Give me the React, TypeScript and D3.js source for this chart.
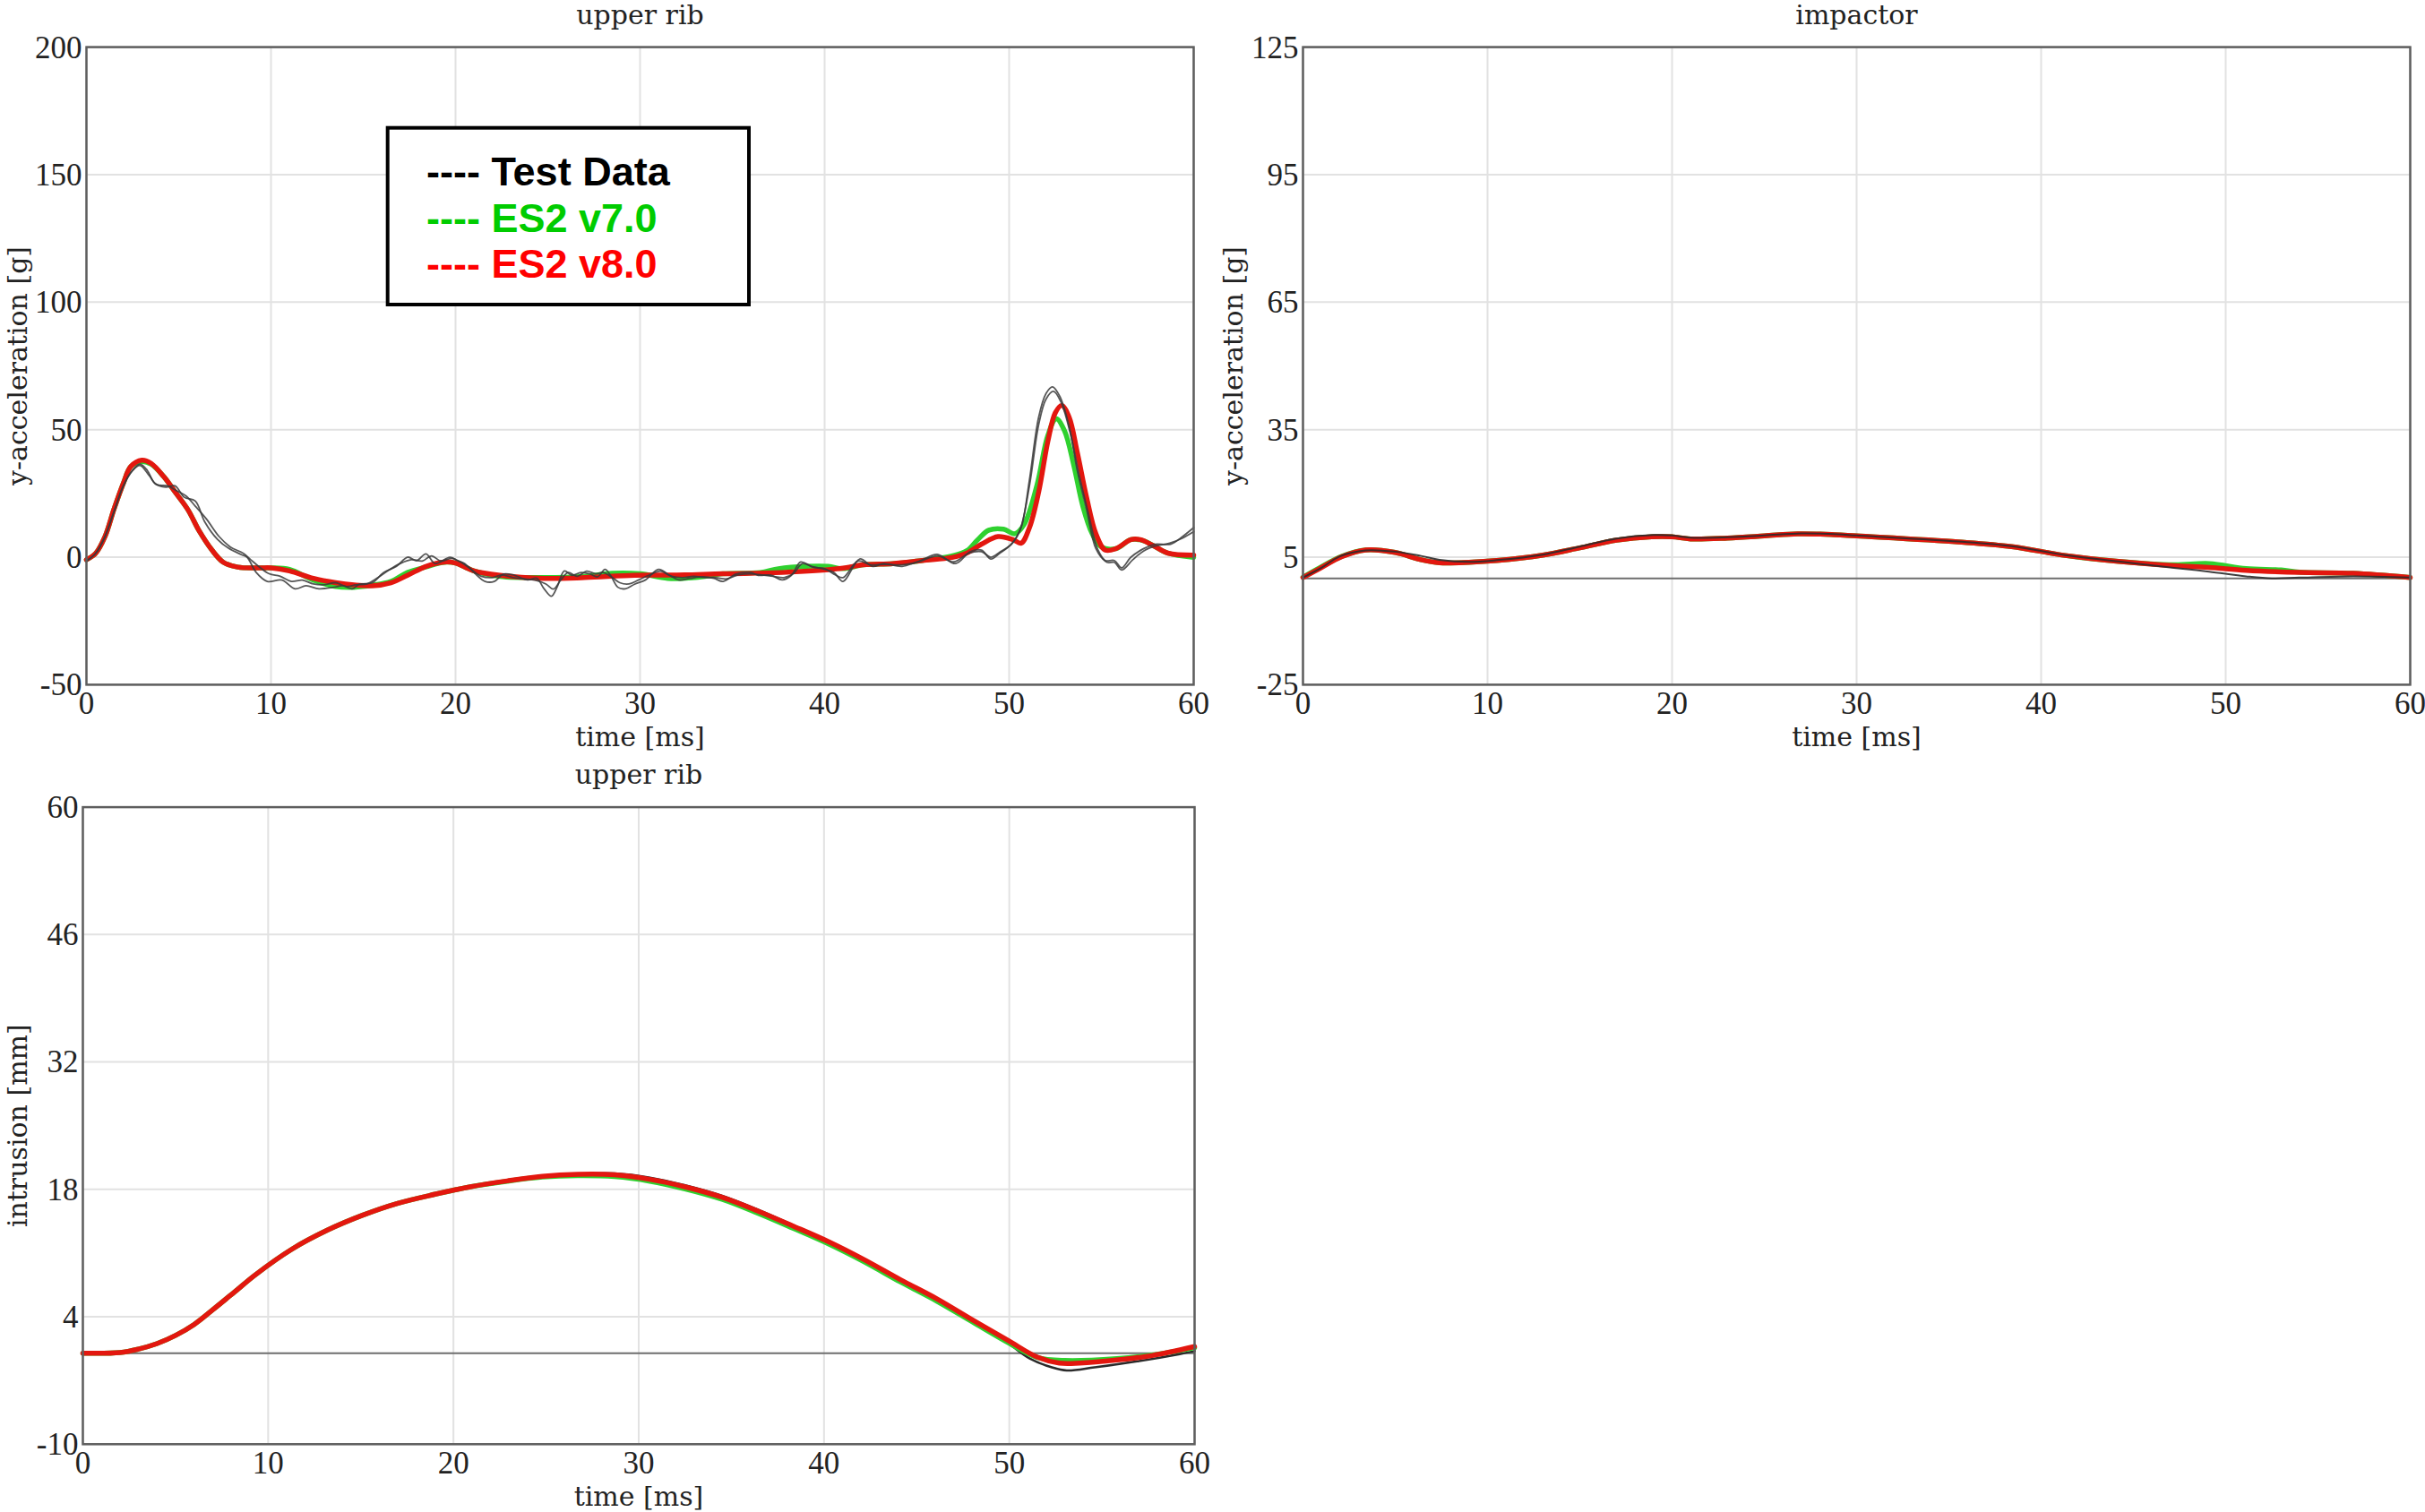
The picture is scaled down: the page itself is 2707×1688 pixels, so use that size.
import React from "react";
import * as d3 from "d3";

// ---------- tick labels ----------
const TIME_TICKS = [0, 10, 20, 30, 40, 50, 60];
const RIB_ACC_TICKS = [-50, 0, 50, 100, 150, 200];
const IMPACTOR_TICKS = [-25, 5, 35, 65, 95, 125];
const INTRUSION_TICKS = [-10, 4, 18, 32, 46, 60];

// ---------- legend ----------
const LEGEND_LABELS = ["---- Test Data", "---- ES2 v7.0", "---- ES2 v8.0"];

// ---------- upper rib y-acceleration [g] ----------
const ribAccTestA: [number, number][] = [
  [0, -1.5], [0.5, 1.5], [1, 8], [1.5, 18], [2, 28], [2.5, 34], [2.9, 36.5], [3.3, 34], [3.7, 29], [4.3, 27.5],
  [4.8, 28], [5.3, 23.5], [5.9, 22], [6.4, 14], [7.1, 7], [7.7, 3.5], [8.4, 1], [8.7, 0], [9.2, -6], [9.8, -9.5],
  [10.6, -9], [11.3, -12.4], [11.9, -11.2], [12.6, -12.4], [13.4, -11.8], [13.9, -11.2], [14.4, -12.4], [14.8, -10.6],
  [15.5, -10], [16.1, -6], [16.8, -3.6], [17.4, 0], [17.9, -1.3], [18.4, 1.3], [18.9, -2.5], [19.7, 0], [20.1, -1.3],
  [20.5, -2.5], [21, -6], [21.6, -9.5], [22.1, -9.5], [22.6, -6.6], [23.2, -7.1], [23.9, -8.9], [24.4, -8.3],
  [24.8, -12.4], [25.2, -15.3], [25.5, -11.8], [25.9, -5.4], [26.3, -7.1], [26.8, -6], [27.3, -6.6], [27.7, -7.7],
  [28.1, -4.8], [28.4, -7.1], [28.8, -11.8], [29.2, -12.4], [29.7, -10.6], [30.3, -8.9], [31, -4.8], [31.6, -7.1],
  [32.1, -8.9], [32.7, -8.3], [33.4, -7.7], [34, -8.3], [34.5, -9.5], [35.2, -6.6], [36, -6], [36.4, -7.1],
  [37.1, -7.1], [37.7, -8.9], [38.2, -7.1], [38.7, -1.9], [39.3, -3.6], [40, -4.8], [40.5, -6], [41, -9.5],
  [41.9, -0.7], [42.6, -3.6], [43.2, -2.5], [44.2, -3.6], [45.2, -1.3], [46.1, 1.1], [47.1, -2.5], [47.9, 2.2],
  [48.5, 2.8], [49, -0.7], [49.5, 1.6], [50.2, 5.7], [50.65, 11.6], [51.1, 30.3], [51.6, 54.9], [52, 64.2],
  [52.35, 66.8], [52.75, 63], [53.25, 51.3], [53.7, 33.8], [54.2, 18.6], [54.7, 3.4], [55.2, -1.3], [55.7, -1.3],
  [56.1, -4.2], [56.6, 0], [57.3, 3.4], [57.9, 5.1], [58.75, 5.1], [59.4, 8.1], [60, 11.6],
];
const ribAccTestB: [number, number][] = [
  [0, -1.5], [0.5, 1.5], [1, 8], [1.5, 18], [2, 28], [2.5, 34], [2.9, 36], [3.4, 32], [3.8, 28.5], [4.4, 28],
  [4.9, 26], [5.4, 24], [5.9, 20], [6.5, 15], [7.2, 8], [7.8, 4], [8.5, 1.5], [8.9, -1], [9.4, -4], [9.9, -6.5],
  [10.5, -7.5], [11.1, -9.5], [11.7, -9], [12.3, -10.5], [12.9, -10.8], [13.5, -10], [14.1, -11.5], [14.6, -10.8],
  [15.2, -10.5], [15.8, -8], [16.4, -5], [17, -2.5], [17.6, -1], [18.2, -1.5], [18.7, 0.5], [19.2, -1.5],
  [19.8, -0.5], [20.3, -2], [20.8, -4.5], [21.4, -7.5], [22, -8], [22.5, -7], [23.1, -8], [23.7, -8.5], [24.3, -9],
  [24.9, -10.5], [25.3, -12.5], [25.7, -9], [26.1, -6], [26.6, -7.5], [27.1, -5.5], [27.6, -6.5], [28, -6],
  [28.5, -8], [28.9, -10], [29.4, -10.5], [29.9, -9], [30.5, -7], [31.1, -5.5], [31.7, -7.5], [32.3, -8],
  [32.9, -7.5], [33.5, -8], [34.1, -8], [34.7, -8.5], [35.3, -7], [36, -6.5], [36.6, -7], [37.2, -7.5], [37.8, -8],
  [38.3, -6.5], [38.8, -2.5], [39.4, -4], [40, -4.5], [40.6, -7], [41, -8], [41.8, -1.5], [42.5, -3], [43.2, -2.8],
  [44.2, -3], [45.1, -1.8], [46.1, 0.5], [47, -1.8], [47.8, 1.5], [48.5, 2.2], [49, 0], [49.5, 2], [50.1, 5],
  [50.6, 11], [51.1, 28], [51.6, 52], [52, 62], [52.4, 65], [52.8, 61], [53.3, 49], [53.8, 32], [54.3, 17],
  [54.8, 3], [55.3, -2], [55.7, -2], [56.1, -5], [56.7, -1], [57.3, 2.5], [58, 4.5], [58.7, 5.5], [59.4, 7.5], [60, 10],
];
const ribAccV7: [number, number][] = [
  [0, -1], [0.5, 1.5], [1, 8], [1.5, 19], [2, 29], [2.4, 35.5], [3, 37.5], [3.5, 36.5], [4.2, 31.5], [4.8, 25.6],
  [5.5, 18.6], [6.1, 10.4], [6.8, 2.8], [7.4, -1.9], [8.2, -3.9], [9.4, -4.2], [10, -4.2], [11, -4.8], [12.3, -9],
  [13.5, -11.5], [14.5, -11.8], [15.5, -11], [16.5, -9.5], [17.4, -6], [18.4, -3.8], [19.4, -2], [20, -2.3],
  [20.5, -3.8], [21, -5.4], [22.4, -7.5], [24.8, -8], [27, -7.5], [28.5, -6.3], [30, -6.5], [31.5, -8.3], [33, -8],
  [34.5, -6.5], [36.5, -6], [37.5, -4.5], [39, -3.6], [40.2, -3.6], [41, -4.5], [42.1, -3], [43.7, -2.5],
  [45.3, -1.3], [46.9, 0.5], [47.7, 2.5], [48.3, 6.9], [48.9, 10.6], [49.7, 11], [50.3, 9.2], [50.8, 12.7],
  [51.5, 28], [52.1, 47.8], [52.55, 54.3], [53, 49.6], [53.5, 36.1], [54, 19.8], [54.5, 9.2], [55, 4], [55.8, 3.4],
  [56.6, 6.9], [57.3, 6.4], [57.8, 4.6], [58.6, 1.6], [60, -0.1],
];
const ribAccV8: [number, number][] = [
  [0, -1], [0.5, 1.5], [1, 8], [1.5, 19], [2, 29], [2.4, 35.5], [3, 38], [3.5, 36.8], [4.2, 31.5], [4.8, 25.6],
  [5.5, 18.6], [6.1, 10.4], [6.8, 2.8], [7.4, -1.9], [8.2, -3.9], [9.4, -4.2], [10, -4.2], [11, -5.4], [12.3, -8.3],
  [13.5, -10], [14.5, -10.9], [15.5, -11.2], [16.5, -10], [17.4, -7.1], [18.4, -3.6], [19.4, -1.9], [20, -2.3],
  [20.5, -3.8], [21, -5.4], [22.4, -7.1], [24.8, -8.3], [27, -8], [29.7, -7.1], [32, -7], [34.5, -6.5], [37.7, -6],
  [40.8, -4.5], [42.1, -3], [43.7, -2.5], [45.3, -1.3], [46.9, -0.1], [47.7, 1.6], [48.5, 5.1], [49.4, 8.1],
  [50.2, 6.9], [50.65, 5.5], [51.1, 11.6], [51.6, 25.6], [52.1, 45.5], [52.5, 56.6], [52.85, 59.5], [53.25, 54.9],
  [53.7, 40.8], [54.2, 23.3], [54.7, 9.2], [55.2, 2.8], [55.8, 3.4], [56.6, 6.9], [57.1, 6.9], [57.8, 4.6],
  [58.6, 1.6], [60, 0.8],
];

// ---------- impactor y-acceleration [g] ----------
const impactorTest: [number, number][] = [
  [0, 0.2], [1, 2.5], [2, 5.2], [3.4, 6.6], [5, 6.3], [6.4, 5.3], [7.4, 4.4], [9, 3.9], [10.5, 4.3], [13, 5.6],
  [15, 7.5], [17, 9.4], [19, 10.2], [20, 10.1], [21, 9.6], [23, 9.7], [25, 10.1], [27, 10.6], [29, 10.4], [30, 10.1],
  [35.5, 8.7], [38.4, 7.6], [41.3, 5.5], [44.2, 4.0], [47.2, 2.5], [49.1, 1.6], [51.1, 0.5], [52.5, 0], [54, 0.2],
  [56.9, 0.5], [60, 0.2],
];
const impactorV7: [number, number][] = [
  [0, 0.3], [0.9, 2.5], [2.1, 5.2], [3.4, 6.7], [5, 6.1], [6.4, 4.4], [7.4, 3.7], [9, 3.8], [10.5, 4.2], [13, 5.5],
  [15, 7.2], [17, 9.0], [18.9, 9.8], [20, 9.8], [21, 9.3], [23, 9.5], [25, 10], [26.8, 10.5], [28.8, 10.3], [30, 10],
  [35.5, 8.6], [38.4, 7.5], [41.3, 5.4], [44.2, 4.0], [47.2, 3.2], [49.1, 3.5], [51.1, 2.3], [53, 2.0], [54, 1.5],
  [56.9, 1.2], [60, 0.2],
];
const impactorV8: [number, number][] = [
  [0, 0.2], [0.9, 2.3], [2.1, 5.1], [3.4, 6.7], [5, 6.1], [6.4, 4.4], [7.4, 3.7], [9, 3.8], [10.5, 4.2], [13, 5.5],
  [15, 7.2], [17, 9.0], [18.9, 9.8], [20, 9.8], [21, 9.3], [23, 9.5], [25, 10], [26.8, 10.5], [28.8, 10.3], [30, 10],
  [35.5, 8.6], [38.4, 7.5], [41.3, 5.4], [44.2, 4.0], [47.2, 3.0], [49.1, 2.6], [51.1, 1.9], [54, 1.4], [56.9, 1.2],
  [60, 0.2],
];

// ---------- upper rib intrusion [mm] ----------
const intrusionTest: [number, number][] = [
  [0, 0], [2, 0.07], [3, 0.45], [4, 1.05], [5, 1.95], [6, 3.15], [7, 4.75], [8.2, 6.75], [9.3, 8.6],
  [11.25, 11.39], [13.2, 13.52], [15.1, 15.16], [17, 16.47], [19, 17.46], [20.9, 18.28], [22.9, 18.93],
  [24.8, 19.43], [26.7, 19.7], [28.7, 19.75], [30.6, 19.3], [32.5, 18.45], [34.5, 17.3], [36.4, 15.8],
  [38.3, 14.1], [40.3, 12.2], [42.2, 10.2], [44.1, 8.0], [46.1, 5.8], [48, 3.4], [49.95, 1.05], [51.1, -0.58],
  [52.3, -1.56], [53.1, -1.9], [54.6, -1.56], [56.9, -0.9], [59.2, -0.1], [60, 0.23],
];
const intrusionV7: [number, number][] = [
  [0, 0], [2, 0.07], [3, 0.45], [4, 1.05], [5, 1.95], [6, 3.15], [7, 4.75], [8.2, 6.75], [9.3, 8.6],
  [11.25, 11.39], [13.2, 13.52], [15.1, 15.16], [17, 16.47], [19, 17.46], [20.9, 18.28], [22.9, 18.9],
  [24.8, 19.35], [26.7, 19.5], [28.7, 19.4], [30.6, 18.9], [32.5, 18.05], [34.5, 16.9], [36.4, 15.4],
  [38.3, 13.75], [40.3, 11.95], [42.2, 10.0], [44.1, 7.85], [46.1, 5.7], [48, 3.45], [49.95, 1.15],
  [51.5, -0.45], [53, -0.8], [55.8, -0.6], [57.7, -0.2], [60, 0.6],
];
const intrusionV8: [number, number][] = [
  [0, 0], [2, 0.07], [3, 0.45], [4, 1.05], [5, 1.95], [6, 3.15], [7, 4.75], [8.2, 6.75], [9.3, 8.6],
  [11.25, 11.39], [13.2, 13.52], [15.1, 15.16], [17, 16.47], [19, 17.46], [20.9, 18.28], [22.9, 18.93],
  [24.8, 19.43], [26.7, 19.65], [28.7, 19.6], [30.6, 19.1], [32.5, 18.28], [34.5, 17.13], [36.4, 15.65],
  [38.3, 14.0], [40.3, 12.2], [42.2, 10.24], [44.1, 8.1], [46.1, 5.97], [48, 3.68], [49.95, 1.38],
  [51.5, -0.42], [52.7, -1.08], [53.8, -1.08], [55.8, -0.75], [57.7, -0.26], [60, 0.73],
];

const COLORS = { test: "#3a3a3a", v7: "#2fd12f", v8: "#e3170f", legendGreen: "#00cc00", legendRed: "#ff0000" };

type Series = { data: [number, number][]; color: string; width: number; opacity?: number };

type PanelProps = {
  left: number; right: number; top: number; bottom: number;
  yTicks: number[]; title: string; ylabel: string; ylabelX: number;
  series: Series[]; zeroLine: boolean;
};

const SERIF = "'DejaVu Serif', serif";
const TICK_FONT = "'Liberation Serif', 'Times New Roman', serif";

function Panel({ left, right, top, bottom, yTicks, title, ylabel, ylabelX, series, zeroLine }: PanelProps) {
  const x = d3.scaleLinear().domain([0, 60]).range([left, right]);
  const y = d3.scaleLinear().domain([yTicks[0], yTicks[yTicks.length - 1]]).range([bottom, top]);
  const line = d3
    .line<[number, number]>()
    .x((d) => x(d[0]))
    .y((d) => y(d[1]))
    .curve(d3.curveCatmullRom.alpha(0.5));
  const cx = (left + right) / 2;
  const cy = (top + bottom) / 2;
  return (
    <g>
      {TIME_TICKS.map((t) => (
        <line key={"gx" + t} x1={x(t)} x2={x(t)} y1={top} y2={bottom} stroke="#e2e2e2" strokeWidth={2} />
      ))}
      {yTicks.map((t) => (
        <line key={"gy" + t} x1={left} x2={right} y1={y(t)} y2={y(t)} stroke="#e2e2e2" strokeWidth={2} />
      ))}
      {zeroLine && (
        <line x1={x(0)} x2={x(60)} y1={y(0)} y2={y(0)} stroke="#6e6e6e" strokeWidth={2} />
      )}
      {series.map((s, i) => (
        <path
          key={"s" + i}
          d={line(s.data) || ""}
          fill="none"
          stroke={s.color}
          strokeWidth={s.width}
          strokeOpacity={s.opacity ?? 1}
          strokeLinejoin="round"
          strokeLinecap="round"
        />
      ))}
      <rect x={left} y={top} width={right - left} height={bottom - top} fill="none" stroke="#5e5e5e" strokeWidth={2.5} />
      {yTicks.map((t) => (
        <text key={"ly" + t} x={left - 5} y={y(t)} dy="0.34em" textAnchor="end" fontFamily={TICK_FONT} fontSize={35} fill="#222">
          {t}
        </text>
      ))}
      {TIME_TICKS.map((t) => (
        <text key={"lx" + t} x={x(t)} y={bottom + 33} textAnchor="middle" fontFamily={TICK_FONT} fontSize={35} fill="#222">
          {t}
        </text>
      ))}
      <text x={cx} y={top - 26} textAnchor="middle" fontFamily={SERIF} fontSize={30} fill="#222">
        {title}
      </text>
      <text x={cx} y={bottom + 69} textAnchor="middle" fontFamily={SERIF} fontSize={30} fill="#222">
        time [ms]
      </text>
      <text
        transform={`translate(${ylabelX},${cy}) rotate(-90)`}
        textAnchor="middle"
        fontFamily={SERIF}
        fontSize={30}
        fill="#222"
      >
        {ylabel}
      </text>
    </g>
  );
}

export default function App() {
  const testStyle = (d: [number, number][]): Series => ({ data: d, color: COLORS.test, width: 1.8, opacity: 0.85 });
  const v7 = (d: [number, number][]): Series => ({ data: d, color: COLORS.v7, width: 5.5 });
  const v8 = (d: [number, number][]): Series => ({ data: d, color: COLORS.v8, width: 5.5 });
  const legendColors = ["#000000", COLORS.legendGreen, COLORS.legendRed];
  return (
    <svg
      width={2707}
      height={1688}
      style={{ position: "absolute", left: 0, top: 0, display: "block", background: "#fff" }}
    >
      <rect x={0} y={0} width={2707} height={1688} fill="#fff" />
      <Panel
        left={96.5} right={1332.5} top={52.6} bottom={764.4}
        yTicks={RIB_ACC_TICKS} title="upper rib" ylabel="y-acceleration [g]" ylabelX={30}
        zeroLine={false}
        series={[v7(ribAccV7), v8(ribAccV8), testStyle(ribAccTestA), testStyle(ribAccTestB)]}
      />
      <Panel
        left={1454.5} right={2690.5} top={52.6} bottom={764.4}
        yTicks={IMPACTOR_TICKS} title="impactor" ylabel="y-acceleration [g]" ylabelX={1387}
        zeroLine={true}
        series={[v7(impactorV7), v8(impactorV8), { data: impactorTest, color: "#2a2a2a", width: 2, opacity: 0.9 }]}
      />
      <Panel
        left={92.5} right={1333.5} top={901.1} bottom={1612.3}
        yTicks={INTRUSION_TICKS} title="upper rib" ylabel="intrusion [mm]" ylabelX={30}
        zeroLine={true}
        series={[{ data: intrusionTest, color: "#2a2a2a", width: 2.5 }, v7(intrusionV7), v8(intrusionV8)]}
      />
      <g>
        <rect x={432.7} y={142.7} width={403.3} height={197.3} fill="#fff" stroke="#000" strokeWidth={4} />
        {LEGEND_LABELS.map((label, i) => (
          <text
            key={label}
            x={476}
            y={207.3 + i * 51.3}
            fontFamily="'Liberation Sans', Arial, sans-serif"
            fontWeight="bold"
            fontSize={45}
            fill={legendColors[i]}
          >
            {label}
          </text>
        ))}
      </g>
    </svg>
  );
}
